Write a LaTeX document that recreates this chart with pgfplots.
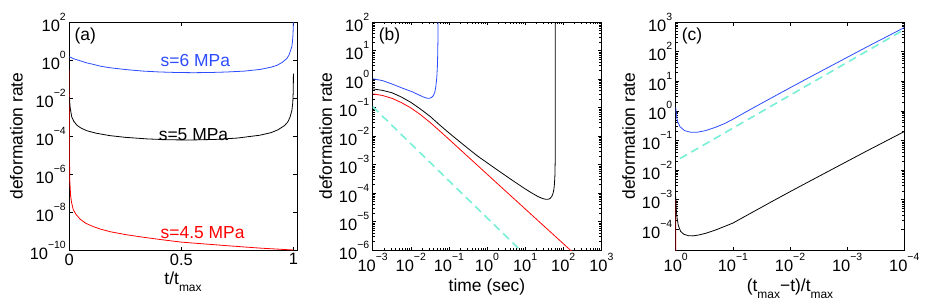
\documentclass[border=0pt]{standalone}
\usepackage{fontspec}
\setmainfont{Liberation Sans}
\usepackage{pgfplots}
\pgfplotsset{compat=1.18}
\definecolor{mblue}{RGB}{45,75,255}
\definecolor{mcyan}{RGB}{120,240,215}
\newcommand{\tk}[1]{10\raisebox{11bp}{\fontsize{10.5}{11}\selectfont #1}}
\newcommand{\sub}[1]{\raisebox{-7bp}{\fontsize{12}{12}\selectfont #1}}
\pgfplotsset{mstyle/.style={scale only axis, height=228bp, anchor=north west,
  tick align=inside, major tick length=3.5bp, minor tick length=2bp,
  every tick/.style={black, line width=0.5pt},
  axis line style={line width=0.6pt},
  ticklabel style={font=\fontsize{16.5}{18}\selectfont},
  label style={font=\fontsize{17.5}{20}\selectfont},
  every axis plot/.append style={line width=0.8pt, line join=round},
  ylabel={deformation rate}}}
\begin{document}
\begin{tikzpicture}
\path[use as bounding box, fill=white] (0,0) rectangle (927bp,-305bp);
% ---------- (a)
\begin{axis}[mstyle, at={(69.3bp,-22bp)}, width=227.5bp,
  xmin=0, xmax=1.015, ymode=log, ymin=1e-10, ymax=1e2,
  xtick={0,0.5,1}, xticklabels={0,0.5,1},
  ytick={1e-10,1e-8,1e-6,1e-4,1e-2,1,1e2},
  yticklabels={\tk{−10},\tk{−8},\tk{−6},\tk{−4},\tk{−2},\tk{0},\tk{2}},
  yminorticks=false,
  xlabel={t/t\sub{max}}]
\addplot[red] coordinates {(0,0.3) (0.0008,1e-5) (0.002,5e-7) (0.004,1.8e-7) (0.006,7e-8) (0.01,3.2e-8) (0.018,1.3e-8) (0.03,7.5e-9) (0.048,4.2e-9) (0.075,2.5e-9) (0.107,1.7e-9) (0.14,1.25e-9) (0.182,9.2e-10) (0.25,6.5e-10) (0.33,4.7e-10) (0.42,3.4e-10) (0.5,2.6e-10) (0.6,2.1e-10) (0.7,1.7e-10) (0.85,1.26e-10) (1.0,1.0e-10)};
\addplot[black] coordinates {(0,1.2e-2) (0.004,3e-3) (0.011,1e-3) (0.02,6e-4) (0.033,3.8e-4) (0.05,2.7e-4) (0.078,1.9e-4) (0.12,1.4e-4) (0.18,1.05e-4) (0.25,8.5e-5) (0.35,7e-5) (0.45,6.3e-5) (0.55,6.2e-5) (0.65,6.6e-5) (0.75,7.8e-5) (0.85,1.1e-4) (0.9,1.5e-4) (0.93,2.1e-4) (0.96,3.5e-4) (0.975,5.5e-4) (0.985,1e-3) (0.993,2.2e-3) (0.997,5.5e-3) (0.999,0.02) (0.9995,0.04) (0.9999,0.19)};
\addplot[mblue] coordinates {(0,1.49) (0.02,1.15) (0.048,0.92) (0.075,0.72) (0.107,0.59) (0.14,0.47) (0.182,0.39) (0.256,0.31) (0.33,0.26) (0.405,0.234) (0.48,0.22) (0.554,0.215) (0.63,0.22) (0.703,0.234) (0.78,0.26) (0.852,0.32) (0.9,0.42) (0.926,0.52) (0.95,0.75) (0.9705,1.2) (0.98,1.8) (0.9929,5) (0.996,10) (0.998,22) (0.999,45) (0.9995,90) (0.9997,150)};
\node[mblue, anchor=base, font=\fontsize{17.5}{20}\selectfont] at (axis cs:0.5625,0.44) {s=6 MPa};
\node[black, anchor=base, font=\fontsize{17.5}{20}\selectfont] at (axis cs:0.554,5.8e-5) {s=5 MPa};
\node[red, anchor=base, font=\fontsize{17.5}{20}\selectfont] at (axis cs:0.595,4.1e-10) {s=4.5 MPa};
\node[anchor=north west, inner sep=0pt, font=\fontsize{17.5}{20}\selectfont] at (rel axis cs:0.022,0.975) {(a)};
\end{axis}
% ---------- (b)
\begin{axis}[mstyle, at={(372.7bp,-22bp)}, width=228.6bp,
  xmode=log, ymode=log, xmin=1e-3, xmax=1e3, ymin=1e-6, ymax=1e2,
  xtick={1e-3,1e-2,1e-1,1,1e1,1e2,1e3},
  xticklabels={\tk{−3},\tk{−2},\tk{−1},\tk{0},\tk{1},\tk{2},\tk{3}},
  ytick={1e-6,1e-5,1e-4,1e-3,1e-2,1e-1,1,1e1,1e2},
  yticklabels={\tk{−6},\tk{−5},\tk{−4},\tk{−3},\tk{−2},\tk{−1},\tk{0},\tk{1},\tk{2}},
  xlabel={time (sec)}]
\addplot[mcyan, line width=1.6pt, dash pattern=on 8bp off 5bp] coordinates {(0.001,0.107) (7.4,1e-6)};
\addplot[red] coordinates {(0.001,0.30) (0.0018,0.265) (0.0032,0.21) (0.0056,0.15) (0.01,0.097) (0.018,0.056) (0.032,0.030) (0.056,0.0155) (0.1,7.7e-3) (0.18,3.75e-3) (0.32,1.86e-3) (0.56,9.4e-4) (1,4.6e-4) (10,2.78e-5) (100,1.68e-6) (200,7.2e-7)};
\addplot[black] coordinates {(0.001,0.45) (0.0018,0.40) (0.0032,0.33) (0.0056,0.235) (0.01,0.152) (0.018,0.088) (0.032,0.049) (0.056,0.0251) (0.1,0.0129) (0.18,6.76e-3) (0.32,3.63e-3) (0.56,2.0e-3) (1,1.16e-3) (2,6.05e-4) (4.5,2.86e-4) (10,1.40e-4) (15,9.97e-5) (20,8.02e-5) (25,6.91e-5) (30,6.3e-5) (35,6.0e-5) (40,6.0e-5) (45,6.4e-5) (50,7.5e-5) (54,9.6e-5) (57,1.37e-4) (59,2.1e-4) (60.5,3.94e-4) (61.5,1.14e-3) (61.8,2.8e-3) (61.95,0.0112) (61.99,0.056) (61.998,0.28) (62,300)};
\addplot[mblue] coordinates {(0.001,1.02) (0.0018,0.88) (0.0032,0.67) (0.0055,0.5) (0.0107,0.36) (0.016,0.28) (0.021,0.235) (0.0266,0.212) (0.031,0.21) (0.035,0.225) (0.039,0.26) (0.0425,0.34) (0.0455,0.55) (0.048,1.1) (0.0497,2.5) (0.0508,7) (0.0516,25) (0.052,100) (0.0522,300)};
\node[anchor=north west, inner sep=0pt, font=\fontsize{17.5}{20}\selectfont] at (rel axis cs:0.026,0.975) {(b)};
\end{axis}
% ---------- (c)
\begin{axis}[mstyle, at={(675.7bp,-22bp)}, width=228.6bp,
  xmode=log, ymode=log, x dir=reverse, xmin=1e-4, xmax=1, ymin=2e-5, ymax=1e3,
  xtick={1,1e-1,1e-2,1e-3,1e-4},
  xticklabels={\tk{0},\tk{−1},\tk{−2},\tk{−3},\tk{−4}},
  ytick={1e-4,1e-3,1e-2,1e-1,1,1e1,1e2,1e3},
  yticklabels={\tk{−4},\tk{−3},\tk{−2},\tk{−1},\tk{0},\tk{1},\tk{2},\tk{3}},
  xlabel={(t\sub{max}−t)/t\sub{max}}]
\addplot[mcyan, line width=1.6pt, dash pattern=on 8bp off 5bp] coordinates {(0.84,0.0245) (1e-4,555)};
\addplot[red] coordinates {(1,1e-3) (0.99,1e-6)};
\addplot[black] coordinates {(1,1.3e-3) (0.98,5e-4) (0.95,2.5e-4) (0.9,1.35e-4) (0.82,8.5e-5) (0.72,6.8e-5) (0.6,6.1e-5) (0.5,6e-5) (0.4,6.4e-5) (0.3,7.3e-5) (0.2,9.5e-5) (0.14,1.25e-4) (0.1,1.62e-4) (0.05,3.4e-4) (0.02,9e-4) (0.01,1.86e-3) (0.005,3.8e-3) (0.002,9.7e-3) (0.001,0.0197) (5e-4,0.040) (2e-4,0.1) (1e-4,0.2)};
\addplot[mblue] coordinates {(1,1.35) (0.98,0.8) (0.95,0.55) (0.92,0.42) (0.84,0.29) (0.7,0.215) (0.55,0.19) (0.42,0.19) (0.3,0.215) (0.2,0.28) (0.14,0.37) (0.1,0.52) (0.05,1.1) (0.02,2.9) (0.01,6.0) (0.005,12.3) (0.002,31.5) (0.001,64) (5e-4,130) (2e-4,325) (1e-4,650)};
\node[anchor=north west, inner sep=0pt, font=\fontsize{17.5}{20}\selectfont] at (rel axis cs:0.026,0.975) {(c)};
\end{axis}
\end{tikzpicture}
\end{document}
